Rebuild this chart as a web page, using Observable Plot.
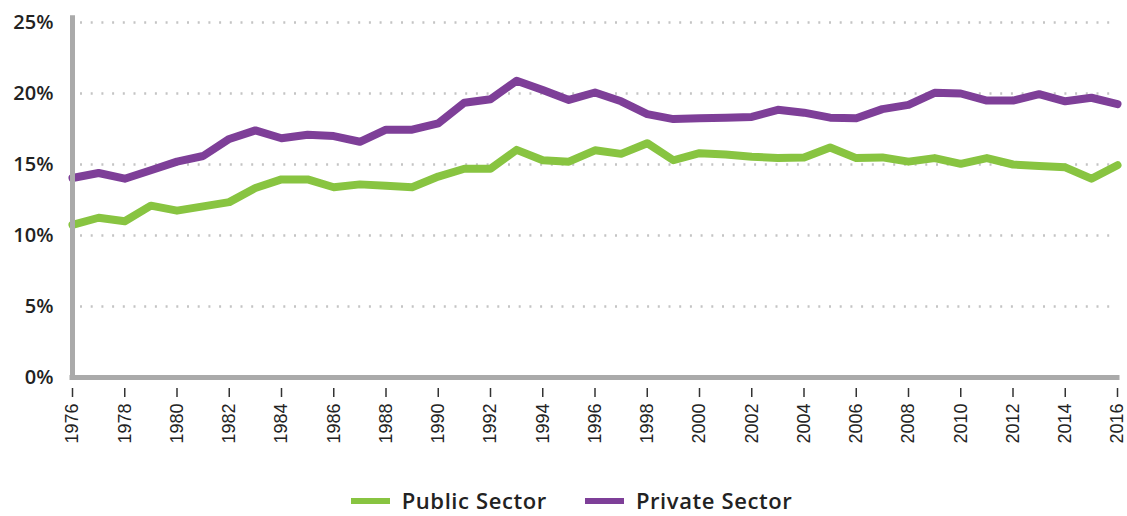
<!DOCTYPE html>
<html>
<head>
<meta charset="utf-8">
<script src="https://cdn.jsdelivr.net/npm/d3@7"></script>
<script src="https://cdn.jsdelivr.net/npm/@observablehq/plot@0.6"></script>
<style>
  html, body { margin: 0; padding: 0; background: #fff; }
  #wrap { position: relative; width: 1127px; height: 516px; overflow: hidden; }
  #legend { position: absolute; left: 0; top: 485px; width: 1127px; height: 30px; line-height: 30px;
    box-sizing: border-box; padding-left: 16px;
    display: flex; justify-content: center; align-items: center; gap: 38px;
    font-family: "Open Sans", Lato, sans-serif; font-weight: 600; font-size: 22px; letter-spacing: 0.6px; color: #222; }
  .item { display: flex; align-items: center; gap: 12px; }
  .sw { width: 39px; height: 6px; margin-top: 2px; }
</style>
</head>
<body>
<div id="wrap">
  <div id="chart"></div>
  <div id="legend"></div>
</div>
<script>
const years = [1976,1977,1978,1979,1980,1981,1982,1983,1984,1985,1986,1987,1988,1989,1990,1991,1992,1993,1994,1995,1996,1997,1998,1999,2000,2001,2002,2003,2004,2005,2006,2007,2008,2009,2010,2011,2012,2013,2014,2015,2016];
const publicSector = [10.75,11.25,11.0,12.1,11.75,12.05,12.35,13.35,13.95,13.95,13.4,13.6,13.5,13.4,14.15,14.7,14.7,16.03,15.3,15.2,16.0,15.75,16.5,15.3,15.8,15.7,15.55,15.45,15.5,16.2,15.45,15.5,15.2,15.45,15.05,15.45,15.0,14.9,14.8,14.0,14.95];
const privateSector = [14.05,14.4,14.0,14.6,15.2,15.6,16.8,17.4,16.85,17.1,17.0,16.6,17.45,17.45,17.9,19.35,19.6,20.9,20.25,19.55,20.07,19.45,18.55,18.2,18.25,18.3,18.35,18.85,18.65,18.3,18.25,18.9,19.2,20.05,20.0,19.5,19.5,19.95,19.45,19.7,19.25];
const seriesNames = ["Public Sector", "Private Sector"];
const seriesColors = ["#88c441", "#7e3f98"];
const yTicks = [0, 5, 10, 15, 20, 25];
const xTicks = d3.range(1976, 2017, 2);

const rows = [];
years.forEach((yr, i) => {
  rows.push({year: yr, value: publicSector[i], series: seriesNames[0]});
  rows.push({year: yr, value: privateSector[i], series: seriesNames[1]});
});

const chart = Plot.plot({
  width: 1127,
  height: 484,
  marginLeft: 72,
  marginRight: 10,
  marginTop: 22,
  marginBottom: 107,
  x: {domain: [1976, 2016], label: null},
  y: {domain: [0, 25], label: null},
  color: {domain: seriesNames, range: seriesColors},
  style: {background: "#fff"},
  marks: [
    Plot.ruleY(yTicks.filter(d => d > 0), {stroke: "#c4c4c4", strokeWidth: 2.5, strokeDasharray: "2,8.7", insetLeft: 8}),
    Plot.axisY({ticks: yTicks, label: null, tickSize: 0, tickPadding: 19, tickFormat: d => d + "%",
      fontSize: 20, fontWeight: 600, fontFamily: "'Open Sans', Lato, sans-serif", fill: "#222"}),
    Plot.axisX({ticks: xTicks, label: null, tickFormat: d => String(d), tickRotate: -90, tickSize: 9, tickPadding: 6, dy: 11,
      fontSize: 18, fontFamily: "'Liberation Sans', Arial, sans-serif", fill: "#222", stroke: "#333", strokeWidth: 1.5}),
    Plot.line(rows, {x: "year", y: "value", z: "series", stroke: "series", strokeWidth: 8,
      strokeLinejoin: "round", strokeLinecap: "round"}),
    Plot.ruleX([1976], {y1: 0, y2: 25.3, stroke: "#aaaaaa", strokeWidth: 5, strokeLinecap: "square"}),
    Plot.ruleY([0], {stroke: "#aaaaaa", strokeWidth: 5, strokeLinecap: "square"})
  ]
});
document.getElementById("chart").appendChild(chart);

const legend = document.getElementById("legend");
seriesNames.forEach((n, i) => {
  const it = document.createElement("div");
  it.className = "item";
  const sw = document.createElement("div");
  sw.className = "sw";
  sw.style.background = seriesColors[i];
  const t = document.createElement("span");
  t.textContent = n;
  it.appendChild(sw); it.appendChild(t);
  legend.appendChild(it);
});
</script>
</body>
</html>
